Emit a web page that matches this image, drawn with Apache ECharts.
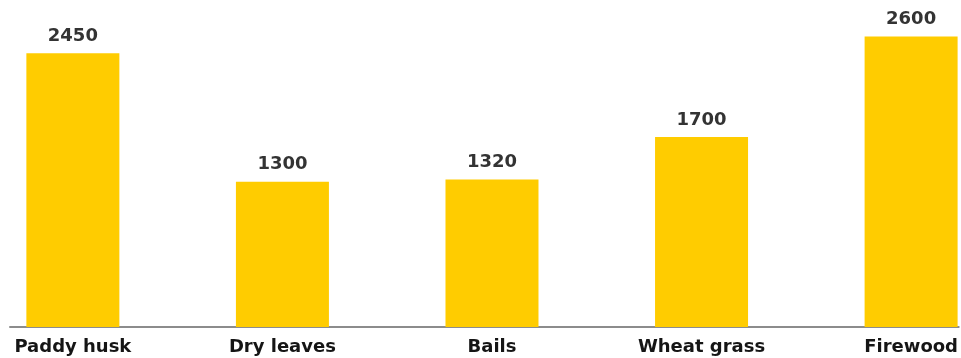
<!DOCTYPE html>
<html>
<head>
<meta charset="utf-8">
<style>
  html, body { margin: 0; padding: 0; background: #fff; }
  #chart { width: 961px; height: 358px; }
</style>
<script src="https://cdn.jsdelivr.net/npm/echarts@6/dist/echarts.min.js"></script>
</head>
<body>
<div id="chart"></div>
<script>
// Fuel types and their values
const categories = ['Paddy husk', 'Dry leaves', 'Bails', 'Wheat grass', 'Firewood'];
const values = [2450, 1300, 1320, 1700, 2600];

const positions = categories.map((_, i) => i);

const chart = echarts.init(document.getElementById('chart'), null, { renderer: 'canvas' });

chart.setOption({
  animation: false,
  backgroundColor: '#ffffff',
  grid: { left: 10, right: 0, top: 3, bottom: 31 },
  xAxis: {
    type: 'value',
    min: -0.3,
    max: 4.227,
    splitLine: { show: false },
    axisTick: { show: false },
    axisLine: { show: true, onZero: false, lineStyle: { color: '#8c8c8c', width: 2 } },
    axisLabel: {
      customValues: positions,
      formatter: v => categories[Math.round(v)] || '',
      color: '#151515',
      fontFamily: 'DejaVu Sans',
      fontWeight: 'bold',
      fontSize: 18,
      margin: 11,
      showMinLabel: true,
      showMaxLabel: true
    }
  },
  yAxis: {
    type: 'value',
    min: 0,
    max: 2900,
    show: false,
    splitLine: { show: false }
  },
  series: [{
    type: 'bar',
    barWidth: 93,
    data: values.map((v, i) => [positions[i], v]),
    itemStyle: { color: '#ffcc00' },
    label: {
      show: true,
      position: 'top',
      distance: 8,
      formatter: p => String(p.value[1]),
      color: '#333',
      fontFamily: 'DejaVu Sans',
      fontWeight: 'bold',
      fontSize: 18
    }
  }]
});
</script>
</body>
</html>
